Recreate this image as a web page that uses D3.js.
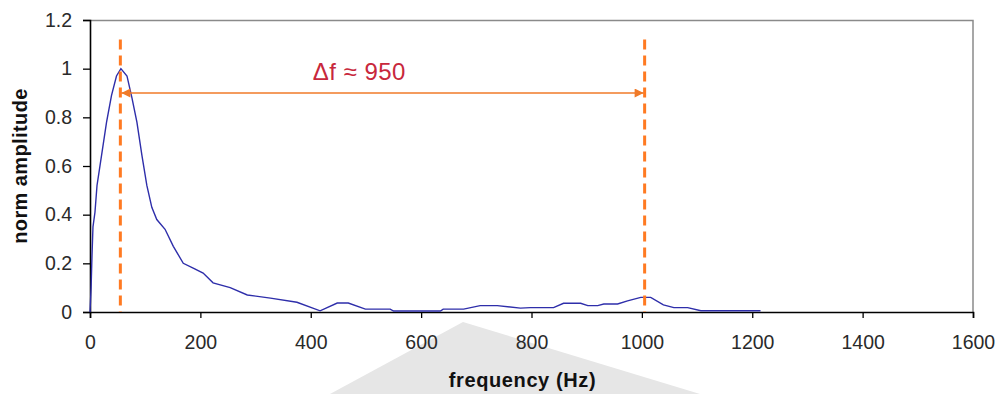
<!DOCTYPE html>
<html>
<head>
<meta charset="utf-8">
<script src="https://cdn.jsdelivr.net/npm/d3@7"></script>
<style>
  body { margin: 0; background: #fff; }
  svg { display: block; font-family: "Liberation Sans", Arial, sans-serif; }
</style>
</head>
<body>
<div id="chart"></div>
<script>
// spectrum
const freq = [0, 2, 3.6, 5.4, 9, 12.7, 21, 30, 39, 48, 56, 67, 76, 85, 94, 103, 112, 121, 136, 151, 169, 187, 205, 223, 254, 285, 327, 375, 417, 448, 468, 499, 544, 550, 635, 640, 677, 707, 738, 780, 798, 840, 858, 889, 902, 920, 931, 956, 974, 998, 1016, 1039, 1058, 1083, 1107, 1215];
const amp  = [0, 0.10, 0.23, 0.35, 0.41, 0.52, 0.645, 0.78, 0.89, 0.97, 1.0, 0.97, 0.88, 0.78, 0.645, 0.52, 0.43, 0.38, 0.34, 0.27, 0.20, 0.18, 0.16, 0.12, 0.10, 0.07, 0.057, 0.04, 0.005, 0.037, 0.037, 0.012, 0.012, 0.004, 0.004, 0.012, 0.012, 0.026, 0.026, 0.016, 0.018, 0.018, 0.036, 0.036, 0.026, 0.026, 0.033, 0.033, 0.046, 0.06, 0.06, 0.029, 0.018, 0.018, 0.005, 0.005];
const xTicks = [0, 200, 400, 600, 800, 1000, 1200, 1400, 1600];
const yTicks = [0, 0.2, 0.4, 0.6, 0.8, 1, 1.2];
const markers = [55, 1005];   // dashed lines
const arrowLevel = 0.9;
const deltaLabel = "\u0394f \u2248 950";

const W = 1000, H = 394;
const margin = { top: 20, right: 27, bottom: 82, left: 90 };
const width = W - margin.left - margin.right;
const height = H - margin.top - margin.bottom;

const svg = d3.select("#chart").append("svg")
  .attr("width", W).attr("height", H);

// faint watermark behind the x labels
svg.append("path")
  .attr("d", "M463,322 L700,394 L330,394 Z")
  .attr("fill", "#e6e6e6");

const defs = svg.append("defs");
defs.append("marker")
  .attr("id", "head")
  .attr("viewBox", "0 0 10 10")
  .attr("refX", 10).attr("refY", 5)
  .attr("markerWidth", 12).attr("markerHeight", 9)
  .attr("markerUnits", "userSpaceOnUse")
  .attr("orient", "auto-start-reverse")
  .append("path")
  .attr("d", "M0,0 L10,5 L0,10 Z")
  .attr("fill", "#f07a28");

const g = svg.append("g")
  .attr("transform", "translate(" + margin.left + "," + margin.top + ")");

const x = d3.scaleLinear().domain([0, 1600]).range([0, width]);
const y = d3.scaleLinear().domain([0, 1.2]).range([height, 0]);

// top / right frame in grey
g.append("path")
  .attr("d", "M0,0.5 H" + width + " V" + height)
  .attr("fill", "none")
  .attr("stroke", "#8a8a8a")
  .attr("stroke-width", 1.5);

// x axis
const xAxis = g.append("g")
  .attr("transform", "translate(0," + height + ")")
  .call(d3.axisBottom(x).tickValues(xTicks).tickSize(6).tickPadding(17).tickFormat(d3.format("d")));

// y axis
const yAxis = g.append("g")
  .call(d3.axisLeft(y).tickValues(yTicks).tickSize(7).tickPadding(11).tickFormat(d => d === 0 || d === 1 ? d3.format("d")(d) : d3.format(".1f")(d)));

[xAxis, yAxis].forEach(a => {
  a.select(".domain").attr("stroke", "#000").attr("stroke-width", 1.6);
  a.selectAll(".tick line").attr("stroke", "#000").attr("stroke-width", 1.3);
  a.selectAll(".tick text")
    .attr("fill", "#2a2a2a")
    .style("font-size", "19.5px")
    .style("font-family", "'Liberation Sans', Arial, sans-serif");
});

// spectrum line
const pts = freq.map((f, i) => ({ f: f, a: amp[i] }));
g.append("path")
  .datum(pts)
  .attr("fill", "none")
  .attr("stroke", "#2e2eaa")
  .attr("stroke-width", 1.4)
  .attr("d", d3.line().x(d => x(d.f)).y(d => y(d.a)));

// dashed markers
g.selectAll(".marker")
  .data(markers)
  .enter().append("line")
  .attr("class", "marker")
  .attr("x1", d => x(d)).attr("x2", d => x(d))
  .attr("y1", y(1.12)).attr("y2", y(0))
  .attr("stroke", "#ff7a22")
  .attr("stroke-width", 3)
  .attr("stroke-dasharray", "10,6");

// double arrow between the markers
g.append("line")
  .attr("x1", x(markers[0]) + 1).attr("x2", x(markers[1]) - 1)
  .attr("y1", y(arrowLevel)).attr("y2", y(arrowLevel))
  .attr("stroke", "#f07a28")
  .attr("stroke-width", 1.6)
  .attr("marker-start", "url(#head)")
  .attr("marker-end", "url(#head)");

g.append("text")
  .attr("x", x(488)).attr("y", y(0.953))
  .attr("text-anchor", "middle")
  .attr("fill", "#c8283c")
  .style("font-size", "24px")
  .style("letter-spacing", "0.5px")
  .text(deltaLabel);

// axis titles
svg.append("text")
  .attr("x", margin.left + x(800) - 9).attr("y", 387)
  .attr("text-anchor", "middle")
  .style("font-size", "20px").style("font-weight", "bold")
  .style("letter-spacing", "0.6px")
  .attr("fill", "#111")
  .text("frequency (Hz)");

svg.append("text")
  .attr("transform", "translate(27," + 166 + ") rotate(-90)")
  .attr("text-anchor", "middle")
  .style("font-size", "20px").style("font-weight", "bold")
  .style("letter-spacing", "0.4px")
  .attr("fill", "#111")
  .text("norm amplitude");
</script>
</body>
</html>
